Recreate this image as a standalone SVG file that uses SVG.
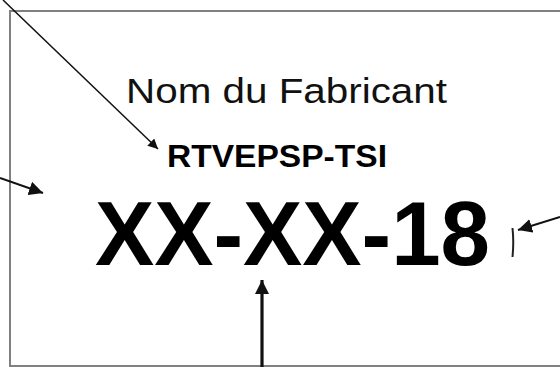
<svg xmlns="http://www.w3.org/2000/svg" width="560" height="367" viewBox="0 0 560 367">
<style>
.frame{fill:none;stroke:#808080;stroke-width:2}
.conn{stroke:#111;fill:none}
.t{font-family:"Liberation Sans",Arial,sans-serif;fill:#111}
.b{font-weight:bold;fill:#000}
</style>
<defs>
<marker id="ah" viewBox="0 0 10 10" refX="10" refY="5" markerWidth="10" markerHeight="10" markerUnits="userSpaceOnUse" orient="auto">
<path d="M0,0 L10,5 L0,10 Z" fill="#111"/>
</marker>
<marker id="ah2" viewBox="0 0 10 10" refX="10" refY="5" markerWidth="14" markerHeight="14" markerUnits="userSpaceOnUse" orient="auto">
<path d="M0,0 L10,5 L0,10 Z" fill="#111"/>
</marker>
</defs>
<rect width="560" height="367" fill="#fff"/>
<g id="plate">
<path class="frame" d="M570,11 L10,11 L10,366 L570,366"/>
</g>
<g id="fabricant">
<text class="t" x="126" y="103" font-size="35.5" textLength="321" lengthAdjust="spacingAndGlyphs">Nom du Fabricant</text>
</g>
<g id="reference">
<text class="t b" x="167" y="167" font-size="31" textLength="220" lengthAdjust="spacingAndGlyphs">RTVEPSP-TSI</text>
</g>
<g id="numero">
<text class="t b" x="95" y="265" font-size="91" textLength="395" lengthAdjust="spacingAndGlyphs">XX-XX-18</text>
<path d="M512.5,228 Q514,242 512.5,257" stroke="#222" stroke-width="2" fill="none"/>
</g>
<g id="connectors">
<line class="conn" x1="3" y1="0" x2="158" y2="149" stroke-width="1.5" marker-end="url(#ah)"/>
<line class="conn" x1="0" y1="178" x2="43" y2="193" stroke-width="2" marker-end="url(#ah2)"/>
<line class="conn" x1="560" y1="217" x2="518" y2="230" stroke-width="2" marker-end="url(#ah2)"/>
<line class="conn" x1="262" y1="367" x2="262" y2="280" stroke-width="3.2" marker-end="url(#ah2)"/>
</g>
</svg>
